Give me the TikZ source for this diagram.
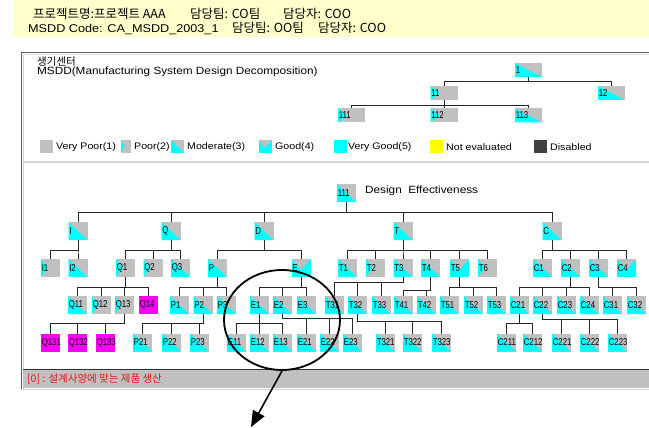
\documentclass[tikz,border=0pt]{standalone}
\usepackage{fontspec}
\setmainfont{Liberation Sans}
\newfontfamily\ui[FakeStretch=1.12]{Liberation Sans}
\newfontfamily\ndf[FakeStretch=0.78]{Liberation Sans}
\newfontfamily\kr{Noto Sans CJK KR}
\usetikzlibrary{calc,arrows.meta,shapes.geometric}
\definecolor{gr}{RGB}{192,192,192}
\definecolor{cy}{RGB}{0,255,255}
\definecolor{mg}{RGB}{255,0,255}
\definecolor{hdr}{RGB}{255,255,204}
\definecolor{yl}{RGB}{255,255,0}
\definecolor{dis}{RGB}{64,64,64}
\definecolor{redt}{RGB}{235,20,20}
\definecolor{frm}{RGB}{90,90,90}
\definecolor{frl}{RGB}{215,215,215}
\newcommand\mytree[3]{\foreach \cc in {#3}{\draw[conn] (#1.south) -- ++(0,#2) -| (\cc.north);}}
\begin{document}
\begin{tikzpicture}[x=1pt,y=-1pt,
  conn/.style={draw=black!85, line width=0.9pt},
  nd/.style={rectangle, inner xsep=0.8pt, inner ysep=0pt, outer sep=0pt, text width=17.4pt, minimum height=18pt, align=left, font=\ndf\fontsize{10}{10}\selectfont, fill=gr},
  tnd/.style={nd, text width=25.4pt, minimum height=14pt},
  pVP/.style={fill=gr},
  pVG/.style={fill=cy},
  pMag/.style={fill=mg},
  pMod/.style={fill=gr, path picture={\fill[cy] (path picture bounding box.north west) -- (path picture bounding box.south east) -- (path picture bounding box.south west) -- cycle;}},
  pPoor/.style={fill=gr, path picture={\fill[cy] (path picture bounding box.north west) -- (path picture bounding box.south west) -- ($(path picture bounding box.west)!0.7!(path picture bounding box.center)$) -- cycle;}},
  pGood/.style={fill=cy, path picture={\fill[gr] (path picture bounding box.north west) -- (path picture bounding box.north east) -- ($(path picture bounding box.north)!0.6!(path picture bounding box.south)$) -- cycle;}},
  lgi/.style={rectangle, minimum width=13pt, minimum height=13pt, inner sep=0pt, outer sep=0pt},
  lgt/.style={anchor=west, inner sep=0pt, font=\ui\fontsize{9.5}{12}\selectfont},
  hk/.style={anchor=base west, inner sep=0pt, font=\kr\fontsize{12.5}{14}\selectfont},
  hl/.style={anchor=base west, inner sep=0pt, font=\ui\fontsize{11.3}{13}\selectfont},
]
\useasboundingbox (0,0) rectangle (649,428);
\fill[white] (0,0) rectangle (649,428);
% header
\fill[hdr] (13,0) rectangle (649,37);
\node[hk] (h1) at (33,18.5) {프로젝트명:프로젝트 AAA};
\node[hk] (h2) at (190,18.5) {담당팀: CO팀};
\node[hk] (h3) at (283,18.5) {담당자: COO};
\node[hl] (h4) at (28,33) {MSDD Code: CA\_MSDD\_2003\_1};
\node[hk] (h5) at (232,33) {담당팀: OO팀};
\node[hk] (h6) at (318,33) {담당자: COO};
% frame
\draw[frl, line width=1pt] (23.5,389) -- (23.5,54.5) -- (649,54.5);
\draw[frm, line width=1.2pt] (21.5,390) -- (21.5,52.5) -- (649,52.5);
\draw[frl, line width=1.2pt] (24,162) -- (649,162);
% title
\node[anchor=base west, inner sep=0pt, font=\kr\fontsize{10.5}{11}\selectfont] (ttl1) at (37,66) {생기센터};
\node[anchor=base west, inner sep=0pt, font=\ui\fontsize{10.5}{12}\selectfont] (ttl2) at (37,75) {MSDD(Manufacturing System Design Decomposition)};
% small tree
\node[tnd,pMod] (t1) at (528.5,70) {1};
\node[tnd,pPoor] (t11) at (444,93) {11};
\node[tnd,pMod] (t12) at (611.5,93) {12};
\node[tnd,pPoor] (t111) at (351.5,115.5) {111};
\node[tnd,pPoor] (t112) at (444,115.5) {112};
\node[tnd,pMod] (t113) at (528.5,115.5) {113};
\mytree{t1}{4}{t11,t12}
\mytree{t11}{5}{t111,t112,t113}
% legend
\node[lgi,pVP] (l1) at (46.5,146.5) {};
\node[lgt] (l1t) at (56,147) {Very Poor(1)};
\node[lgi,pPoor,minimum width=10pt] (l2) at (126,146.5) {};
\node[lgt] (l2t) at (134,147) {Poor(2)};
\node[lgi,pMod] (l3) at (177.5,146.5) {};
\node[lgt] (l3t) at (187,147) {Moderate(3)};
\node[lgi,pGood] (l4) at (265,146.5) {};
\node[lgt] (l4t) at (275,147) {Good(4)};
\node[lgi,pVG] (l5) at (340,146.5) {};
\node[lgt] (l5t) at (348,147) {Very Good(5)};
\node[lgi,fill=yl] (l6) at (436.5,146.5) {};
\node[lgt] (l6t) at (446,147) {Not evaluated};
\node[lgi,fill=dis] (l7) at (540,146.5) {};
\node[lgt] (l7t) at (550,147) {Disabled};
% main tree
\node[nd,pMod] (root) at (346.5,193) {111};
\node[anchor=base west, inner sep=0pt, font=\ui\fontsize{10.5}{12}\selectfont] (de) at (365,193.5) {Design\ \ Effectiveness};
\foreach \n/\x in {I/78,Q/171,D/264,T/403,C/552}{\node[nd,pMod] (\n) at (\x,231) {\n};}
\foreach \n/\x/\p in {I1/50.5/pPoor,I2/78/pMod,Q1/125.5/pPoor,Q2/153/pPoor,Q3/180.5/pMod,P/217.5/pMod,E/301/pGood,T1/347.5/pMod,T2/375.5/pPoor,T3/403/pMod,T4/430.5/pMod,T5/459.5/pGood,T6/487.5/pPoor,C1/542.5/pMod,C2/570.5/pMod,C3/598.5/pMod,C4/626.5/pGood}{\node[nd,\p] (\n) at (\x,268) {\n};}
\foreach \n/\x/\p in {Q11/77.5/pMod,Q12/101.5/pPoor,Q13/124.5/pPoor,Q14/148.5/pMag,P1/179.5/pMod,P2/203/pMod,P3/226.5/pMod,E1/259.5/pMod,E2/282.5/pMod,E3/306.5/pMod,T31/334.5/pMod,T32/357.5/pMod,T33/381.5/pMod,T41/403.5/pMod,T42/426.5/pMod,T51/449.5/pMod,T52/473.5/pMod,T53/496.5/pMod,C21/519.5/pMod,C22/542.5/pMod,C23/566.5/pMod,C24/589.5/pMod,C31/612.5/pMod,C32/636.5/pMod}{\node[nd,\p] (\n) at (\x,305) {\n};}
\foreach \n/\x/\p in {Q131/50.5/pMag,Q132/77.5/pMag,Q133/105.5/pMag,P21/142.5/pMod,P22/171.5/pMod,P23/199.5/pMod,E11/236.5/pMod,E12/259.5/pMod,E13/282.5/pMod,E21/306.5/pMod,E22/329.5/pMod,E23/352.5/pMod,T321/385.5/pMod,T322/412.5/pMod,T323/441.5/pMod,C211/506.5/pMod,C212/532.5/pMod,C221/561.5/pMod,C222/589.5/pMod,C223/617.5/pMod}{\node[nd,\p] (\n) at (\x,342.5) {\n};}
\mytree{root}{10}{I,Q,D,T,C}
\mytree{I}{10}{I1,I2}
\mytree{Q}{10}{Q1,Q2,Q3}
\mytree{D}{10}{P,E}
\mytree{T}{10}{T1,T2,T3,T4,T5,T6}
\mytree{C}{10}{C1,C2,C3,C4}
\mytree{Q1}{10}{Q11,Q12,Q13,Q14}
\mytree{P}{10}{P1,P2,P3}
\mytree{E}{10}{E1,E2,E3}
\mytree{T3}{5}{T31,T32,T33}
\mytree{T4}{13}{T41,T42}
\mytree{T5}{10}{T51,T52,T53}
\mytree{C2}{10}{C21,C22,C23,C24}
\mytree{C3}{10}{C31,C32}
\mytree{Q13}{9}{Q131,Q132,Q133}
\mytree{P2}{9}{P21,P22,P23}
\mytree{E1}{9}{E11,E12,E13}
\mytree{E2}{4}{E21,E22,E23}
\mytree{T32}{7}{T321,T322,T323}
\mytree{C21}{9}{C211,C212}
\mytree{C22}{5}{C221,C222,C223}
% status bar
\fill[gr] (23,370) rectangle (649,388);
\draw[black!80, line width=1.5pt] (23,369.5) -- (649,369.5);
\draw[frl, line width=1.5pt] (21,389.5) -- (649,389.5);
\node[anchor=base west, inner sep=0pt, text=redt, font=\kr\fontsize{10.5}{12}\selectfont] (st) at (27,382.5) {[0] : 설계사양에 맞는 제품 생산};
% highlight circle and arrow
\node[draw, ellipse, line width=1.8pt, minimum width=116pt, minimum height=100pt, inner sep=0pt] (circ) at (282,320) {};
\coordinate (tip) at (251,427);
\draw[line width=1.6pt, -{Triangle[length=16pt,width=13pt]}] (circ.south) -- (tip);
\end{tikzpicture}
\end{document}
